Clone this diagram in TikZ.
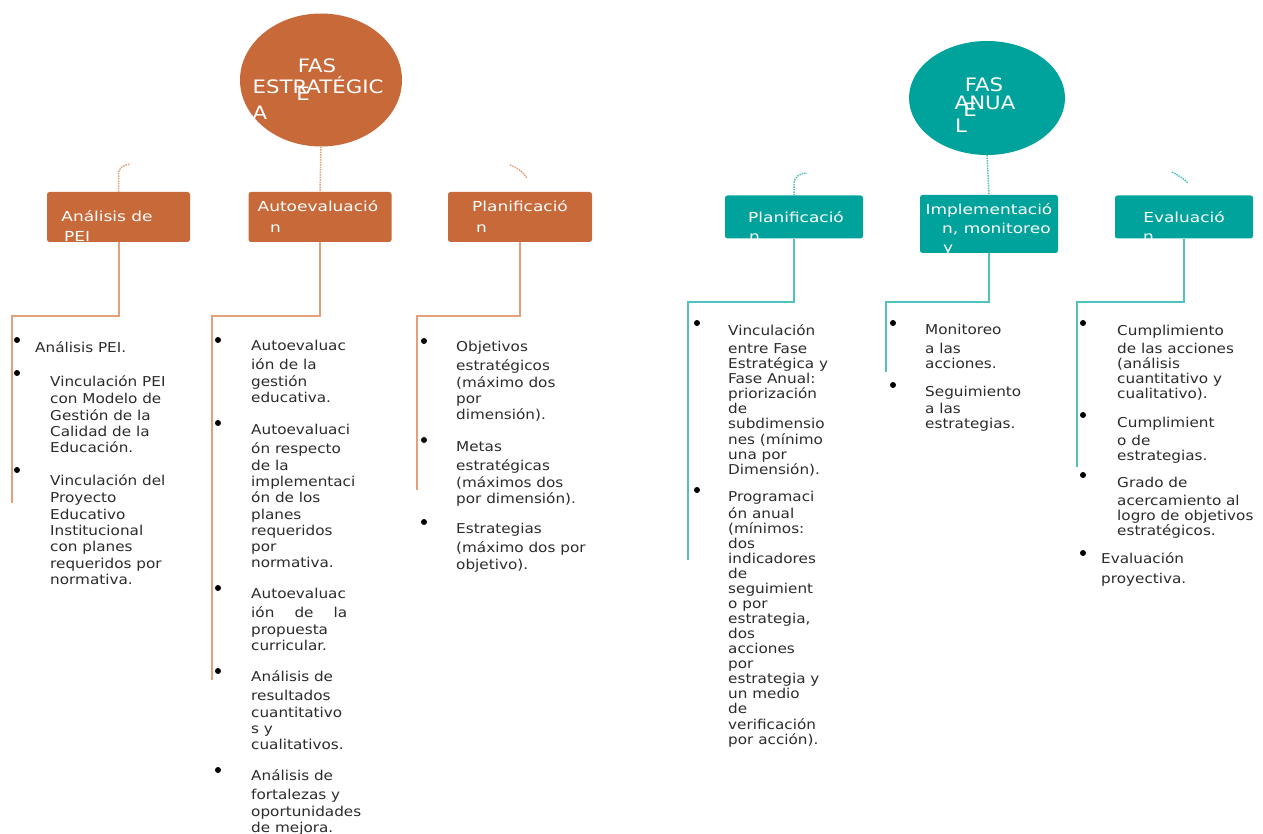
\documentclass[tikz,border=0pt]{standalone}
\usepackage{fontspec}
\usetikzlibrary{shapes.geometric}
\newfontfamily\bodyf[FakeStretch=1.12]{DejaVu Sans}
\newfontfamily\boxf[FakeStretch=1.23]{DejaVu Sans}
\newfontfamily\headf[FakeStretch=1.15]{DejaVu Sans}
\definecolor{orgbox}{HTML}{C8693A}
\definecolor{orgline}{HTML}{E3A07A}
\definecolor{tealbox}{HTML}{00A39B}
\definecolor{tealline}{HTML}{4EC3BD}
\definecolor{txtc}{HTML}{2B2B2B}
\newcommand\itemlines[1]{\begin{tabular}[t]{@{}l@{}}#1\end{tabular}}
\begin{document}
\begin{tikzpicture}[x=1pt,y=-1pt,
  boxL/.style={rectangle, rounded corners=2.5pt, fill=orgbox, inner sep=0},
  boxR/.style={rectangle, rounded corners=2.5pt, fill=tealbox, inner sep=0},
  item/.style={anchor=base west, inner sep=0, text=txtc, font=\bodyf\fontsize{13.6}{16.3}\selectfont},
  itemR/.style={item, font=\bodyf\fontsize{13.6}{15}\selectfont},
  bul/.style={circle, fill=black, inner sep=0, minimum size=6pt},
  btxt/.style={text=white, inner sep=0, font=\boxf\fontsize{13.8}{15}\selectfont},
  ctxt/.style={text=white, inner sep=0, font=\headf\fontsize{18.5}{20}\selectfont},
  conL/.style={draw=orgline, line width=2pt},
  conR/.style={draw=tealline, line width=2pt},
  dotL/.style={draw=orgline, line width=1.5pt, densely dotted},
  dotR/.style={draw=tealline, line width=1.5pt, densely dotted}]
\useasboundingbox (0,0) rectangle (1263,834);

% ---------------- left: FASE ESTRATEGICA ----------------
\node[ellipse, fill=orgbox, minimum width=162pt, minimum height=133pt, inner sep=0] (fe) at (321,80) {};
\node[ctxt, anchor=base] (fe1) at (317,73) {FAS};
\node[ctxt, anchor=base] (fe2) at (318,94) {ESTRATÉGIC};
\node[ctxt, anchor=base] (fe3) at (303,101) {E};
\node[ctxt, anchor=base] (fe4) at (260,120) {A};

\node[boxL, minimum width=143pt, minimum height=50pt] (b1) at (118.5,217) {};
\node[boxL, minimum width=143pt, minimum height=50pt] (b2) at (320,217) {};
\node[boxL, minimum width=144pt, minimum height=50pt] (b3) at (520,217) {};
\node[btxt, anchor=base] (b1t) at (107,222) {Análisis de};
\node[btxt, anchor=base west] (b1u) at (64,242) {PEI};
\node[btxt, anchor=base] (b2t) at (318,212) {Autoevaluació};
\node[btxt, anchor=base west] (b2u) at (270,233) {n};
\node[btxt, anchor=base] (b3t) at (520,212) {Planificació};
\node[btxt, anchor=base west] (b3u) at (476,233) {n};

\draw[dotL] (fe.south) -- (b2.north);
\coordinate (la1) at (130,164);
\coordinate (la2) at (510,165);
\coordinate (la3) at (527,178);
\draw[dotL] (b1.north) -- ++(0,-17) .. controls (118,168) and (123,165) .. (la1);
\draw[dotL] (la2) .. controls (518,168) and (523,172) .. (la3);

\coordinate (j1) at (12,316);  \coordinate (e1) at (12,503);
\coordinate (j2) at (212,316); \coordinate (e2) at (212,680);
\coordinate (j3) at (417,316); \coordinate (e3) at (417,490);
\draw[conL] (b1.south) -- (b1.south |- j1) -- (j1) -- (e1);
\draw[conL] (b2.south) -- (b2.south |- j2) -- (j2) -- (e2);
\draw[conL] (b3.south) -- (b3.south |- j3) -- (j3) -- (e3);

% column 1
\node[bul] (d11) at (17,340) {};
\node[item] (t11) at (35,352) {Análisis PEI.};
\node[bul] (d12) at (17,373) {};
\node[item] (t12) at (50,386) {\itemlines{Vinculación PEI\\[1.5pt]con Modelo de\\Gestión de la\\Calidad de la\\Educación.}};
\node[bul] (d13) at (17,470) {};
\node[item] (t13) at (50,485) {\itemlines{Vinculación del\\[1.5pt]Proyecto\\Educativo\\Institucional\\con planes\\requeridos por\\normativa.}};

% column 2
\node[bul] (d21) at (218,340) {};
\node[item] (t21) at (251,350) {\itemlines{Autoevaluac\\[3.5pt]ión de la\\gestión\\educativa.}};
\node[bul] (d22) at (218,423) {};
\node[item] (t22) at (251,434) {\itemlines{Autoevaluaci\\[3.5pt]ón respecto\\de la\\implementaci\\ón de los\\planes\\requeridos\\por\\normativa.}};
\node[bul] (d23) at (218,588) {};
\node[item] (t23) at (251,598) {\itemlines{Autoevaluac\\[3.5pt]\makebox[96pt][s]{ión\hfill de\hfill la}\\propuesta\\curricular.}};
\node[bul] (d24) at (218,671) {};
\node[item] (t24) at (251,681) {\itemlines{Análisis de\\[3.5pt]resultados\\cuantitativo\\s y\\cualitativos.}};
\node[bul] (d25) at (218,770) {};
\node[item] (t25) at (251,780) {\itemlines{Análisis de\\[3.5pt]fortalezas y\\oportunidades\\de mejora.}};

% column 3
\node[bul] (d31) at (424,341) {};
\node[item] (t31) at (456,351) {\itemlines{Objetivos\\[3.5pt]estratégicos\\(máximo dos\\por\\dimensión).}};
\node[bul] (d32) at (424,440) {};
\node[item] (t32) at (456,451) {\itemlines{Metas\\[3.5pt]estratégicas\\(máximos dos\\por dimensión).}};
\node[bul] (d33) at (424,522) {};
\node[item] (t33) at (456,533) {\itemlines{Estrategias\\[3.5pt](máximo dos por\\objetivo).}};

% ---------------- right: FASE ANUAL ----------------
\node[ellipse, fill=tealbox, minimum width=156pt, minimum height=114pt, inner sep=0] (fa) at (987,98) {};
\node[ctxt, anchor=base] (fa1) at (984,92) {FAS};
\node[ctxt, anchor=base] (fa2) at (985,110) {ANUA};
\node[ctxt, anchor=base] (fa3) at (970,117) {E};
\node[ctxt, anchor=base] (fa4) at (961,133) {L};

\node[boxR, minimum width=138pt, minimum height=43pt] (c1) at (794,217) {};
\node[boxR, minimum width=138pt, minimum height=58pt] (c2) at (989,224) {};
\node[boxR, minimum width=138pt, minimum height=43pt] (c3) at (1184,217) {};
\node[btxt, anchor=base] (c1t) at (796,223) {Planificació};
\node[btxt, anchor=base west] (c1u) at (749,242) {n};
\node[btxt, anchor=base] (c2t) at (989,215) {Implementació};
\node[btxt, anchor=base west] (c2u) at (942,234) {n, monitoreo};
\node[btxt, anchor=base west] (c2v) at (943,253) {y};
\node[btxt, anchor=base] (c3t) at (1184,223) {Evaluació};
\node[btxt, anchor=base west] (c3u) at (1143,242) {n};

\draw[dotR] (fa.south) -- (c2.north);
\coordinate (ra1) at (807,173);
\coordinate (ra2) at (1172,172);
\coordinate (ra3) at (1188,183);
\draw[dotR] (c1.north) -- ++(0,-12) .. controls (794,177) and (800,173) .. (ra1);
\draw[dotR] (ra2) .. controls (1178,175) and (1184,179) .. (ra3);

\coordinate (k1) at (688,302);  \coordinate (f1) at (688,560);
\coordinate (k2) at (886,302);  \coordinate (f2) at (886,372);
\coordinate (k3) at (1077,302); \coordinate (f3) at (1077,467);
\draw[conR] (c1.south) -- (c1.south |- k1) -- (k1) -- (f1);
\draw[conR] (c2.south) -- (c2.south |- k2) -- (k2) -- (f2);
\draw[conR] (c3.south) -- (c3.south |- k3) -- (k3) -- (f3);

% column P
\node[bul] (dp1) at (697,323) {};
\node[itemR] (tp1) at (728,335) {\itemlines{Vinculación\\[3pt]entre Fase\\Estratégica y\\Fase Anual:\\priorización\\de\\subdimensio\\nes (mínimo\\una por\\Dimensión).}};
\node[bul] (dp2) at (697,490) {};
\node[itemR] (tp2) at (728,501) {\itemlines{Programaci\\[2pt]ón anual\\(mínimos:\\dos\\indicadores\\de\\seguimient\\o por\\estrategia,\\dos\\acciones\\por\\estrategia y\\un medio\\de\\verificación\\por acción).}};

% column I
\node[bul] (di1) at (893,323) {};
\node[itemR] (ti1) at (925,334) {\itemlines{Monitoreo\\[4pt]a las\\acciones.}};
\node[bul] (di2) at (893,385) {};
\node[itemR] (ti2) at (925,396) {\itemlines{Seguimiento\\[2pt]a las\\estrategias.}};

% column E
\node[bul] (de1) at (1083,323) {};
\node[itemR] (te1) at (1117,335) {\itemlines{Cumplimiento\\[3pt]de las acciones\\(análisis\\cuantitativo y\\cualitativo).}};
\node[bul] (de2) at (1083,415) {};
\node[itemR] (te2) at (1117,427) {\itemlines{Cumplimient\\[3pt]o de\\estrategias.}};
\node[bul] (de3) at (1083,475) {};
\node[itemR] (te3) at (1117,487) {\itemlines{Grado de\\[3pt]acercamiento al\\logro de objetivos\\estratégicos.}};
\node[bul] (de4) at (1083,553) {};
\node[itemR] (te4) at (1101,563) {\itemlines{Evaluación\\[5pt]proyectiva.}};
\end{tikzpicture}
\end{document}
